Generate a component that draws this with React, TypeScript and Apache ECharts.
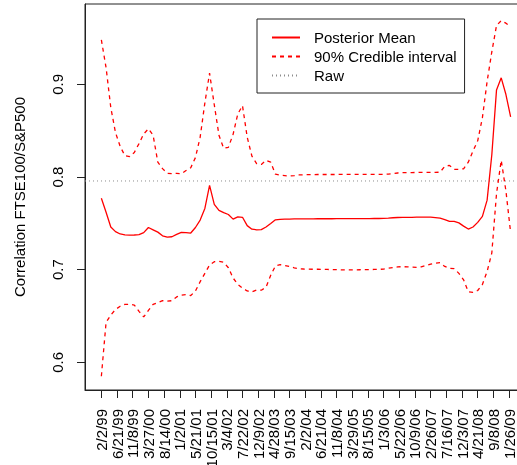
import React, { useEffect, useRef } from "react";
import * as echarts from "echarts";

// Labelled ticks on the time axis (one every 100 trading days)
const tickLabels = [
  "2/2/99", "6/21/99", "11/8/99", "3/27/00", "8/14/00", "1/2/01", "5/21/01",
  "10/15/01", "3/4/02", "7/22/02", "12/9/02", "4/28/03", "9/15/03", "2/2/04",
  "6/21/04", "11/8/04", "3/29/05", "8/15/05", "1/3/06", "5/22/06", "10/9/06",
  "2/26/07", "7/16/07", "12/3/07", "4/21/08", "9/8/08", "1/26/09",
];
const tickSpacing = 100; // trading days between labelled ticks
const sampleStep = 30; // trading days between plotted samples
const yTickValues = [0.6, 0.7, 0.8, 0.9];
const rawCorrelation = 0.7957;

const posteriorMean = [
  0.777, 0.762, 0.746, 0.741, 0.7385, 0.7375, 0.7372, 0.7374, 0.7378, 0.74,
  0.7455, 0.743, 0.7405, 0.7365, 0.735, 0.7355, 0.738, 0.7403, 0.74, 0.7395,
  0.7455, 0.7535, 0.766, 0.791, 0.7705, 0.764, 0.7615, 0.7595, 0.7545, 0.757,
  0.7565, 0.7475, 0.7437, 0.743, 0.7432, 0.746, 0.7498, 0.7538, 0.7543, 0.7545,
  0.7546, 0.7547, 0.7547, 0.7548, 0.7548, 0.7548, 0.7549, 0.7549, 0.7549, 0.7549,
  0.755, 0.755, 0.755, 0.755, 0.755, 0.755, 0.7551, 0.7551, 0.7552, 0.7552,
  0.7553, 0.7556, 0.756, 0.7563, 0.7565, 0.7565, 0.7565, 0.7566, 0.7566, 0.7566,
  0.7566, 0.7562, 0.7555, 0.754, 0.7522, 0.7522, 0.7505, 0.747, 0.7438, 0.746,
  0.751, 0.7575, 0.775, 0.824, 0.894, 0.907, 0.889, 0.865,
];

const upperBound = [
  0.948, 0.918, 0.875, 0.848, 0.833, 0.823, 0.822, 0.8265, 0.836, 0.8465,
  0.852, 0.845, 0.816, 0.809, 0.804, 0.8037, 0.804, 0.8035, 0.807, 0.81,
  0.821, 0.843, 0.88, 0.912, 0.878, 0.845, 0.831, 0.832, 0.846, 0.868,
  0.877, 0.843, 0.8225, 0.8145, 0.8135, 0.818, 0.816, 0.803, 0.802, 0.8015,
  0.801, 0.8015, 0.8022, 0.8024, 0.8025, 0.8026, 0.8027, 0.8027, 0.8027, 0.8027,
  0.8027, 0.8028, 0.8028, 0.8028, 0.8028, 0.8028, 0.8028, 0.8028, 0.8029, 0.8029,
  0.8029, 0.8031, 0.8037, 0.8043, 0.8047, 0.8048, 0.8048, 0.8049, 0.8049, 0.805,
  0.805, 0.805, 0.8052, 0.8115, 0.8125, 0.8083, 0.8083, 0.8088, 0.816, 0.828,
  0.839, 0.864, 0.903, 0.935, 0.9635, 0.9687, 0.966, 0.962,
];

const lowerBound = [
  0.585, 0.643, 0.651, 0.657, 0.6605, 0.6625, 0.6625, 0.6618, 0.655, 0.649,
  0.656, 0.6625, 0.6645, 0.6665, 0.666, 0.6665, 0.6705, 0.6725, 0.673, 0.672,
  0.677, 0.687, 0.696, 0.705, 0.7085, 0.709, 0.708, 0.702, 0.691, 0.684,
  0.68, 0.677, 0.676, 0.678, 0.6778, 0.681, 0.694, 0.704, 0.7055, 0.7045,
  0.7035, 0.702, 0.701, 0.7007, 0.7005, 0.7004, 0.7004, 0.7003, 0.7002, 0.7001,
  0.7, 0.6998, 0.6997, 0.6997, 0.6998, 0.6999, 0.7, 0.7001, 0.7002, 0.7003,
  0.7006, 0.7015, 0.7022, 0.703, 0.7032, 0.703, 0.7027, 0.7025, 0.703, 0.7045,
  0.706, 0.707, 0.7075, 0.7035, 0.7014, 0.701, 0.696, 0.689, 0.6762, 0.6755,
  0.6775, 0.684, 0.698, 0.718, 0.782, 0.818, 0.785, 0.74,
];

const FONT = "'Liberation Sans', Arial, Helvetica, sans-serif";
const RED = "#ff0000";
const INK = "#222222";

export default function App() {
  const ref = useRef<HTMLDivElement>(null);

  useEffect(() => {
    if (!ref.current) return;
    const chart = echarts.init(ref.current, undefined, { renderer: "svg" });

    const toPairs = (arr: number[]) => arr.map((v, i) => [i * sampleStep, v]);
    const lastX = (posteriorMean.length - 1) * sampleStep;
    const ext = lastX * 0.04;
    const xMin = -ext;
    const xMax = lastX + ext;
    const xTickValues = tickLabels.map((_, i) => i * tickSpacing);

    const axisLineStyle = { color: INK, width: 1 };

    chart.setOption({
      animation: false,
      textStyle: { fontFamily: FONT },
      grid: {
        left: 85,
        top: 4,
        right: 13,
        bottom: 75,
        show: true,
        borderColor: INK,
        borderWidth: 1,
        containLabel: false,
        outerBoundsMode: "none",
      },
      legend: {
        orient: "vertical",
        left: 257,
        top: 19,
        data: ["Posterior Mean", "90% Credible interval", "Raw"],
        itemWidth: 28,
        itemHeight: 14,
        itemGap: 4,
        padding: [11, 8, 10, 14],
        borderColor: INK,
        borderWidth: 1,
        borderRadius: 0,
        backgroundColor: "#ffffff",
        selectedMode: false,
        itemStyle: { opacity: 0 },
        textStyle: {
          fontFamily: FONT,
          fontSize: 15,
          color: "#000",
          lineHeight: 15,
          padding: [0, 0, 0, 9],
        },
      },
      xAxis: {
        type: "value",
        min: xMin,
        max: xMax,
        axisLine: { show: true, onZero: false, lineStyle: axisLineStyle },
        axisTick: {
          show: true,
          customValues: xTickValues,
          length: 8,
          lineStyle: axisLineStyle,
        },
        axisLabel: {
          customValues: xTickValues,
          rotate: 90,
          margin: 19,
          fontSize: 15,
          fontFamily: FONT,
          color: "#000",
          hideOverlap: false,
          formatter: (v: number) => tickLabels[Math.round(v / tickSpacing)] ?? "",
        },
        splitLine: { show: false },
        minorTick: { show: false },
      },
      yAxis: {
        type: "value",
        min: 0.5701,
        max: 0.9867,
        name: "Correlation FTSE100/S&P500",
        nameLocation: "middle",
        nameGap: 58,
        nameMoveOverlap: false,
        nameTextStyle: { fontSize: 15, color: "#000", fontFamily: FONT },
        axisLine: { show: true, onZero: false, lineStyle: axisLineStyle },
        axisTick: {
          show: true,
          customValues: yTickValues,
          length: 8,
          lineStyle: axisLineStyle,
        },
        axisLabel: {
          customValues: yTickValues,
          rotate: 90,
          margin: 20,
          fontSize: 15,
          fontFamily: FONT,
          color: "#000",
          formatter: (v: number) => v.toFixed(1),
        },
        splitLine: { show: false },
      },
      series: [
        {
          name: "Raw",
          type: "line",
          data: [
            [xMin, rawCorrelation],
            [xMax, rawCorrelation],
          ],
          symbol: "none",
          color: "#8c8c8c",
          lineStyle: { color: "#8c8c8c", width: 1, type: [1, 3] },
          silent: true,
          z: 1,
        },
        {
          name: "Posterior Mean",
          type: "line",
          data: toPairs(posteriorMean),
          symbol: "none",
          color: RED,
          lineStyle: { color: RED, width: 1.3 },
          silent: true,
          z: 3,
        },
        {
          name: "90% Credible interval",
          type: "line",
          data: toPairs(upperBound),
          symbol: "none",
          color: RED,
          lineStyle: { color: RED, width: 1.3, type: [4, 4] },
          silent: true,
          z: 2,
        },
        {
          name: "90% Credible interval",
          type: "line",
          data: toPairs(lowerBound),
          symbol: "none",
          color: RED,
          lineStyle: { color: RED, width: 1.3, type: [4, 4] },
          silent: true,
          z: 2,
        },
      ],
    });

    return () => chart.dispose();
  }, []);

  return (
    <div
      ref={ref}
      style={{ position: "fixed", left: 0, top: 0, width: 540, height: 465 }}
    />
  );
}
